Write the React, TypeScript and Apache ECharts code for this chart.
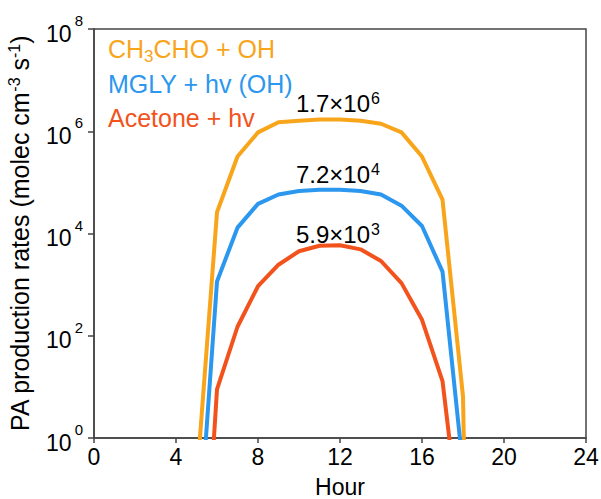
import React, { useEffect, useRef } from 'react';
import * as echarts from 'echarts';

// hour of day
const hours = [5, 6, 7, 8, 9, 10, 11, 12, 13, 14, 15, 16, 17, 18, 19];

// PA production rates (molec cm-3 s-1)
const ch3choOh = [0.13, 2.6e4, 3.2e5, 9.5e5, 1.5e6, 1.6e6, 1.7e6, 1.7e6, 1.6e6, 1.4e6, 9.5e5, 3.2e5, 4.6e4, 6.5, 1e-20];
const mglyHv = [0.0025, 1150, 1.3e4, 3.8e4, 5.8e4, 6.8e4, 7.2e4, 7.2e4, 6.8e4, 5.8e4, 3.5e4, 1.4e4, 1800, 0.26, 1e-20];
const acetoneHv = [4e-6, 8.9, 150, 930, 2450, 4500, 5750, 5900, 4900, 2900, 1070, 205, 13, 0.0056, 1e-20];

const seriesNames = ['CH3CHO + OH', 'MGLY + hv (OH)', 'Acetone + hv'];
const seriesColors = ['#F8A51C', '#2C97EE', '#F2531C'];
const peakValues = [1.7e6, 7.2e4, 5.9e3];
const peakHour = 11.9;

const xTicks = [0, 4, 8, 12, 16, 20, 24];

const FONT = '"Liberation Sans", Arial, sans-serif';

const App: React.FC = () => {
  const chartRef = useRef<HTMLDivElement | null>(null);

  useEffect(() => {
    const chart = echarts.init(chartRef.current!, null, { renderer: 'svg' });

    const allValues = [ch3choOh, mglyHv, acetoneHv];
    const labelDistances = [2, 2, -3];

    const series = seriesNames.map((name, i) => ({
      name,
      type: 'line',
      data: hours.map((h, j) => [h, allValues[i][j]]),
      showSymbol: false,
      symbol: 'none',
      clip: true,
      lineStyle: { color: seriesColors[i], width: 4 },
      itemStyle: { color: seriesColors[i] },
      markPoint: {
        symbol: 'circle',
        symbolSize: 1,
        itemStyle: { color: 'rgba(0,0,0,0)' },
        data: [{ coord: [peakHour, peakValues[i]], value: peakValues[i] }],
        label: {
          show: true,
          position: 'top',
          distance: labelDistances[i],
          fontFamily: FONT,
          fontSize: 24,
          color: '#000',
          formatter: (p: any) => {
            const exp = Math.floor(Math.log10(p.value));
            const mant = (p.value / Math.pow(10, exp)).toFixed(1);
            return `${mant}×10{s|${exp}}`;
          },
          rich: {
            s: { fontFamily: FONT, fontSize: 16, color: '#000', padding: [0, 0, 10, 1] },
          },
        },
      },
    }));

    const option = {
      animation: false,
      textStyle: { fontFamily: FONT },
      grid: {
        left: 94,
        right: 15,
        top: 29,
        bottom: 61,
        outerBoundsMode: 'none',
        containLabel: false,
        show: true,
        borderColor: '#444',
        borderWidth: 1.5,
        backgroundColor: 'transparent',
      },
      legend: {
        orient: 'vertical',
        left: 98,
        top: 27,
        icon: 'none',
        itemWidth: 0,
        itemGap: 4,
        selectedMode: false,
        formatter: (name: string) => name.replace('CH3', 'CH{sub|3}'),
        data: seriesNames.map((name, i) => ({
          name,
          textStyle: {
            color: seriesColors[i],
            fontFamily: FONT,
            fontSize: 25,
            lineHeight: 30,
            rich: {
              sub: { color: seriesColors[i], fontFamily: FONT, fontSize: 17, lineHeight: 17, padding: [16, 0, 0, 0] },
            },
          },
        })),
      },
      xAxis: {
        type: 'value',
        min: xTicks[0],
        max: xTicks[xTicks.length - 1],
        interval: 4,
        name: 'Hour',
        nameLocation: 'middle',
        nameGap: 37,
        nameTextStyle: { color: '#000', fontSize: 23, fontFamily: FONT },
        axisLine: { lineStyle: { color: '#444', width: 1.5 } },
        axisTick: { show: true, inside: false, length: 5, lineStyle: { color: '#444', width: 1.5 } },
        axisLabel: { color: '#000', fontSize: 23, fontFamily: FONT, margin: 7 },
        splitLine: { show: false },
      },
      yAxis: {
        type: 'log',
        logBase: 10,
        min: 1,
        max: 1e8,
        interval: 2,
        name: 'PA production rates (molec cm{sup|-3} s{sup|-1})',
        nameLocation: 'middle',
        nameGap: 60,
        nameTextStyle: {
          color: '#000',
          fontSize: 25,
          fontFamily: FONT,
          rich: {
            sup: { color: '#000', fontFamily: FONT, fontSize: 16, padding: [0, 0, 12, 0] },
          },
        },
        axisLine: { lineStyle: { color: '#444', width: 1.5 } },
        axisTick: { show: true, inside: false, length: 6, lineStyle: { color: '#444', width: 1.5 } },
        axisLabel: {
          color: '#000',
          fontFamily: FONT,
          fontSize: 23,
          margin: 11,
          formatter: (v: number) => `{b|10}{e|${Math.round(Math.log10(v))}}`,
          rich: {
            b: { color: '#000', fontFamily: FONT, fontSize: 23, lineHeight: 23, padding: [9, 0, 0, 0] },
            e: { color: '#000', fontFamily: FONT, fontSize: 15, lineHeight: 15, padding: [0, 0, 17, 3] },
          },
        },
        splitLine: { show: false },
        minorTick: { show: false },
      },
      series,
    };

    chart.setOption(option as any);

    return () => {
      chart.dispose();
    };
  }, []);

  return (
    <div
      ref={chartRef}
      style={{ position: 'fixed', left: 0, top: 0, width: '601px', height: '499px', background: '#fff' }}
    />
  );
};

export default App;
